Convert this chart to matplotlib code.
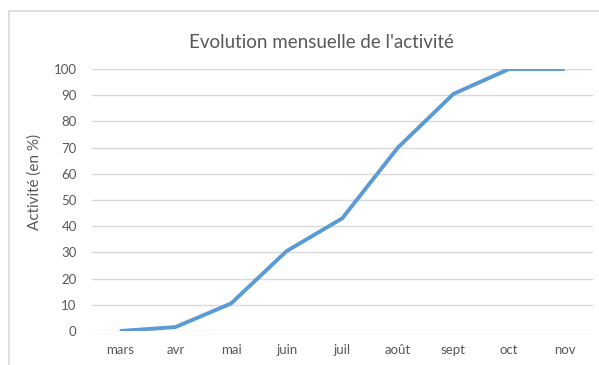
import matplotlib
matplotlib.use("Agg")
import matplotlib.pyplot as plt
from matplotlib.lines import Line2D

months = ["mars", "avr", "mai", "juin", "juil", "août", "sept", "oct", "nov"]
activity = [0, 1.5, 10.5, 30.5, 43, 70, 90.5, 100, 100]
y_ticks = [0, 10, 20, 30, 40, 50, 60, 70, 80, 90, 100]

plt.rcParams["font.family"] = ["Lato", "DejaVu Sans"]
text_color = "#595959"
grid_color = "#d9d9d9"

W, H = 599, 365
fig = plt.figure(figsize=(W / 100, H / 100), dpi=100)
fig.patch.set_facecolor("white")

# chart area frame (left and top edges)
fig.add_artist(Line2D([9 / W, 9 / W, 1.0], [0.0, 1 - 11 / H, 1 - 11 / H],
                      transform=fig.transFigure, color=grid_color, lw=1.2))

left, right = 92 / W, 592.5 / W
bottom, top = 1 - 331 / H, 1 - 69 / H
ax = fig.add_axes([left, bottom, right - left, top - bottom])

x = list(range(len(months)))
ax.plot(x, activity, color="#5B9BD5", lw=2.8, solid_joinstyle="round",
        solid_capstyle="butt", zorder=3)

ax.set_xlim(-0.5, len(months) - 0.5)
ax.set_ylim(0, 100)
ax.set_yticks(y_ticks)
ax.set_xticks(x)
ax.set_xticklabels(months)
for s in ax.spines.values():
    s.set_visible(False)
ax.grid(axis="y", color=grid_color, lw=1.0)
ax.set_axisbelow(True)
ax.tick_params(length=0, colors=text_color, labelsize=9.5)
ax.tick_params(axis="x", pad=9)
ax.tick_params(axis="y", pad=11)

fig.text(35 / W, 1 - 182 / H, "Activité (en %)", rotation=90,
         ha="center", va="center", color=text_color, fontsize=11)
fig.text(321 / W, 1 - 42 / H, "Evolution mensuelle de l'activité",
         ha="center", va="center", color=text_color, fontsize=13.5)

fig.savefig("out.png", dpi=100)
